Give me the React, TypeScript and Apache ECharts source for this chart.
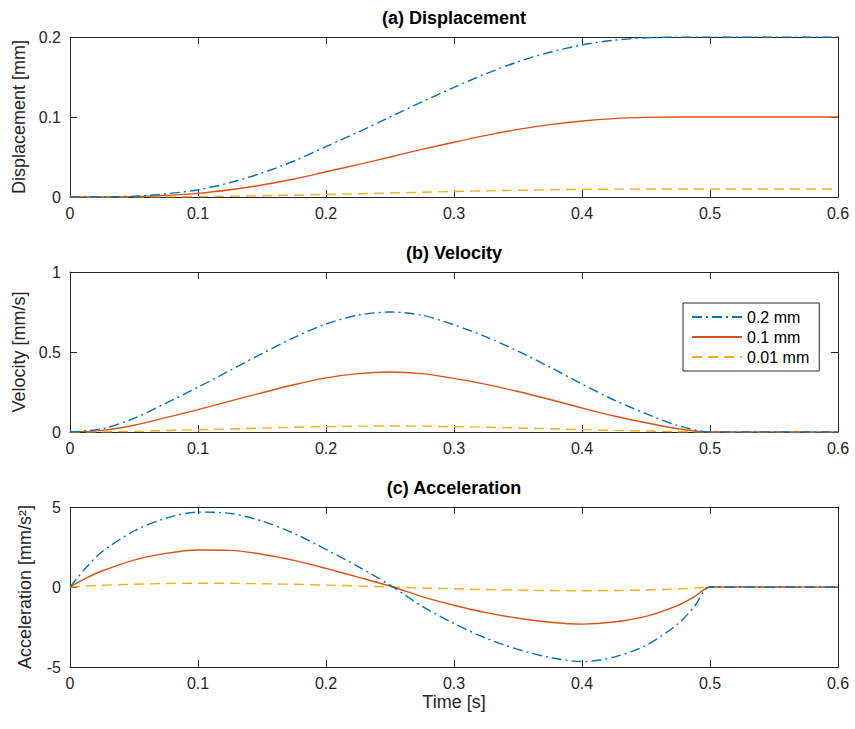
import React, { useEffect, useRef } from "react";
import * as echarts from "echarts";

const time = [0, 0.025, 0.05, 0.075, 0.1, 0.125, 0.15, 0.175, 0.2, 0.225, 0.25, 0.275, 0.3, 0.325, 0.35, 0.375, 0.4, 0.425, 0.45, 0.475, 0.5, 0.525, 0.55, 0.575, 0.6];
const accTime = [0, 0.0125, 0.025, 0.05, 0.075, 0.1, 0.125, 0.15, 0.175, 0.2, 0.225, 0.25, 0.275, 0.3, 0.325, 0.35, 0.375, 0.4, 0.425, 0.45, 0.475, 0.4875, 0.5, 0.525, 0.55, 0.575, 0.6];

const seriesNames = ["0.2 mm", "0.1 mm", "0.01 mm"];

const disp02 = [0, 0, 0.001, 0.004, 0.009, 0.018, 0.03, 0.045, 0.063, 0.081, 0.1, 0.119, 0.137, 0.154, 0.169, 0.181, 0.19, 0.196, 0.199, 0.2, 0.2, 0.2, 0.2, 0.2, 0.2];
const disp01 = [0, 0, 0.0005, 0.002, 0.0045, 0.009, 0.015, 0.0225, 0.0315, 0.0405, 0.05, 0.0595, 0.0685, 0.077, 0.0845, 0.0905, 0.095, 0.098, 0.0995, 0.1, 0.1, 0.1, 0.1, 0.1, 0.1];
const disp001 = [0, 0, 0.00005, 0.0002, 0.00045, 0.0009, 0.0015, 0.00225, 0.00315, 0.00405, 0.005, 0.00595, 0.00685, 0.0077, 0.00845, 0.00905, 0.0095, 0.0098, 0.00995, 0.01, 0.01, 0.01, 0.01, 0.01, 0.01];

const vel02 = [0, 0.02, 0.085, 0.18, 0.28, 0.385, 0.49, 0.59, 0.675, 0.73, 0.75, 0.73, 0.67, 0.595, 0.505, 0.405, 0.3, 0.2, 0.115, 0.04, 0, 0, 0, 0, 0];
const vel01 = [0, 0.01, 0.042, 0.09, 0.14, 0.193, 0.245, 0.295, 0.338, 0.365, 0.375, 0.365, 0.335, 0.298, 0.253, 0.203, 0.15, 0.1, 0.058, 0.02, 0, 0, 0, 0, 0];
const vel001 = [0, 0.001, 0.004, 0.009, 0.014, 0.019, 0.0245, 0.0295, 0.0338, 0.0365, 0.0375, 0.0365, 0.0335, 0.0298, 0.0253, 0.0203, 0.015, 0.01, 0.0058, 0.002, 0, 0, 0, 0, 0];

const acc02 = [0, 1.2, 2.2, 3.5, 4.3, 4.68, 4.6, 4.12, 3.35, 2.35, 1.28, 0.12, -1.2, -2.28, -3.2, -3.9, -4.4, -4.66, -4.38, -3.65, -2.3, -1.25, 0, 0, 0, 0, 0];
const acc01 = [0, 0.55, 1.0, 1.68, 2.1, 2.31, 2.29, 2.05, 1.66, 1.16, 0.62, 0.06, -0.6, -1.14, -1.6, -1.95, -2.2, -2.32, -2.19, -1.84, -1.15, -0.62, 0, 0, 0, 0, 0];
const acc001 = [0, 0.06, 0.11, 0.175, 0.215, 0.234, 0.23, 0.205, 0.17, 0.118, 0.063, 0.006, -0.06, -0.114, -0.16, -0.195, -0.22, -0.233, -0.219, -0.183, -0.115, -0.062, 0, 0, 0, 0, 0];

const titles = ["(a) Displacement", "(b) Velocity", "(c) Acceleration"];
const yNames = ["Displacement [mm]", "Velocity [mm/s]", "Acceleration [mm/s²]"];
const yRanges = [
  [0, 0.2, 0.1],
  [0, 1, 0.5],
  [-5, 5, 5],
];
const xRange = [0, 0.6, 0.1];

const colors = ["#0072BD", "#D95319", "#EDB120"];
const dashes: any[] = [[10, 4, 2, 4], "solid", [10, 6]];

export default function App() {
  const ref = useRef<HTMLDivElement>(null);
  useEffect(() => {
    if (!ref.current) return;
    const chart = echarts.init(ref.current, null, { renderer: "svg" });
    const axisColor = "#262626";
    const font = "'Liberation Sans', Arial, Helvetica, sans-serif";
    const gridTops = [37, 272, 507];
    const grids = gridTops.map((t) => ({ left: 70, right: 17, top: t, height: 160, show: false }));
    const xAxes: any[] = [];
    const yAxes: any[] = [];
    const fmt = (v: number) => String(+v.toFixed(2));
    gridTops.forEach((_, i) => {
      const base = {
        type: "value",
        gridIndex: i,
        min: xRange[0],
        max: xRange[1],
        interval: xRange[2],
        axisLine: { show: true, onZero: false, lineStyle: { color: axisColor, width: 1 } },
        axisTick: { show: true, inside: true, length: 7, lineStyle: { color: axisColor } },
        splitLine: { show: false },
      };
      xAxes.push({
        ...base,
        position: "bottom",
        axisLabel: { show: true, color: axisColor, fontSize: 16, fontFamily: font, margin: 8, formatter: fmt },
        name: i === 2 ? "Time [s]" : "",
        nameLocation: "middle",
        nameGap: 26,
        nameTextStyle: { color: axisColor, fontSize: 18, fontFamily: font },
      });
      xAxes.push({ ...base, position: "top", axisLabel: { show: false } });
      const ybase = {
        type: "value",
        gridIndex: i,
        min: yRanges[i][0],
        max: yRanges[i][1],
        interval: yRanges[i][2],
        axisLine: { show: true, onZero: false, lineStyle: { color: axisColor, width: 1 } },
        axisTick: { show: true, inside: true, length: 7, lineStyle: { color: axisColor } },
        splitLine: { show: false },
      };
      yAxes.push({
        ...ybase,
        position: "left",
        axisLabel: { show: true, color: axisColor, fontSize: 16, fontFamily: font, margin: 9, formatter: fmt },
        name: yNames[i],
        nameLocation: "middle",
        nameGap: 36,
        nameTextStyle: { color: axisColor, fontSize: 18, fontFamily: font },
      });
      yAxes.push({ ...ybase, position: "right", axisLabel: { show: false } });
    });

    const dataSets = [
      { t: time, sets: [disp02, disp01, disp001] },
      { t: time, sets: [vel02, vel01, vel001] },
      { t: accTime, sets: [acc02, acc01, acc001] },
    ];
    const series: any[] = [];
    dataSets.forEach((ds, gi) => {
      ds.sets.forEach((vals, si) => {
        series.push({
          type: "line",
          name: seriesNames[si],
          xAxisIndex: gi * 2,
          yAxisIndex: gi * 2,
          data: ds.t.map((t, k) => [t, vals[k]]),
          symbol: "none",
          smooth: 0.3,
          lineStyle: { color: colors[si], width: 1.4, type: dashes[si] },
          itemStyle: { color: colors[si] },
          z: 3 - si,
        });
      });
    });

    chart.setOption({
      animation: false,
      backgroundColor: "#ffffff",
      title: titles.map((t, i) => ({
        text: t,
        left: 454,
        top: gridTops[i] - 28,
        textAlign: "center",
        textStyle: { fontSize: 18, fontWeight: "bold", color: "#000", fontFamily: font },
        padding: 0,
      })),
      grid: grids,
      xAxis: xAxes,
      yAxis: yAxes,
      legend: {
        data: seriesNames,
        orient: "vertical",
        left: 683,
        top: 303,
        backgroundColor: "#ffffff",
        borderColor: axisColor,
        borderWidth: 1,
        padding: [6, 10, 6, 8],
        itemGap: 4,
        itemWidth: 50,
        itemHeight: 14,
        itemStyle: { opacity: 0 },
        textStyle: { fontSize: 16, color: "#000", fontFamily: font },
      },
      series,
    });
    return () => chart.dispose();
  }, []);
  return <div ref={ref} style={{ width: 855, height: 729, position: "absolute", left: 0, top: 0 }} />;
}
